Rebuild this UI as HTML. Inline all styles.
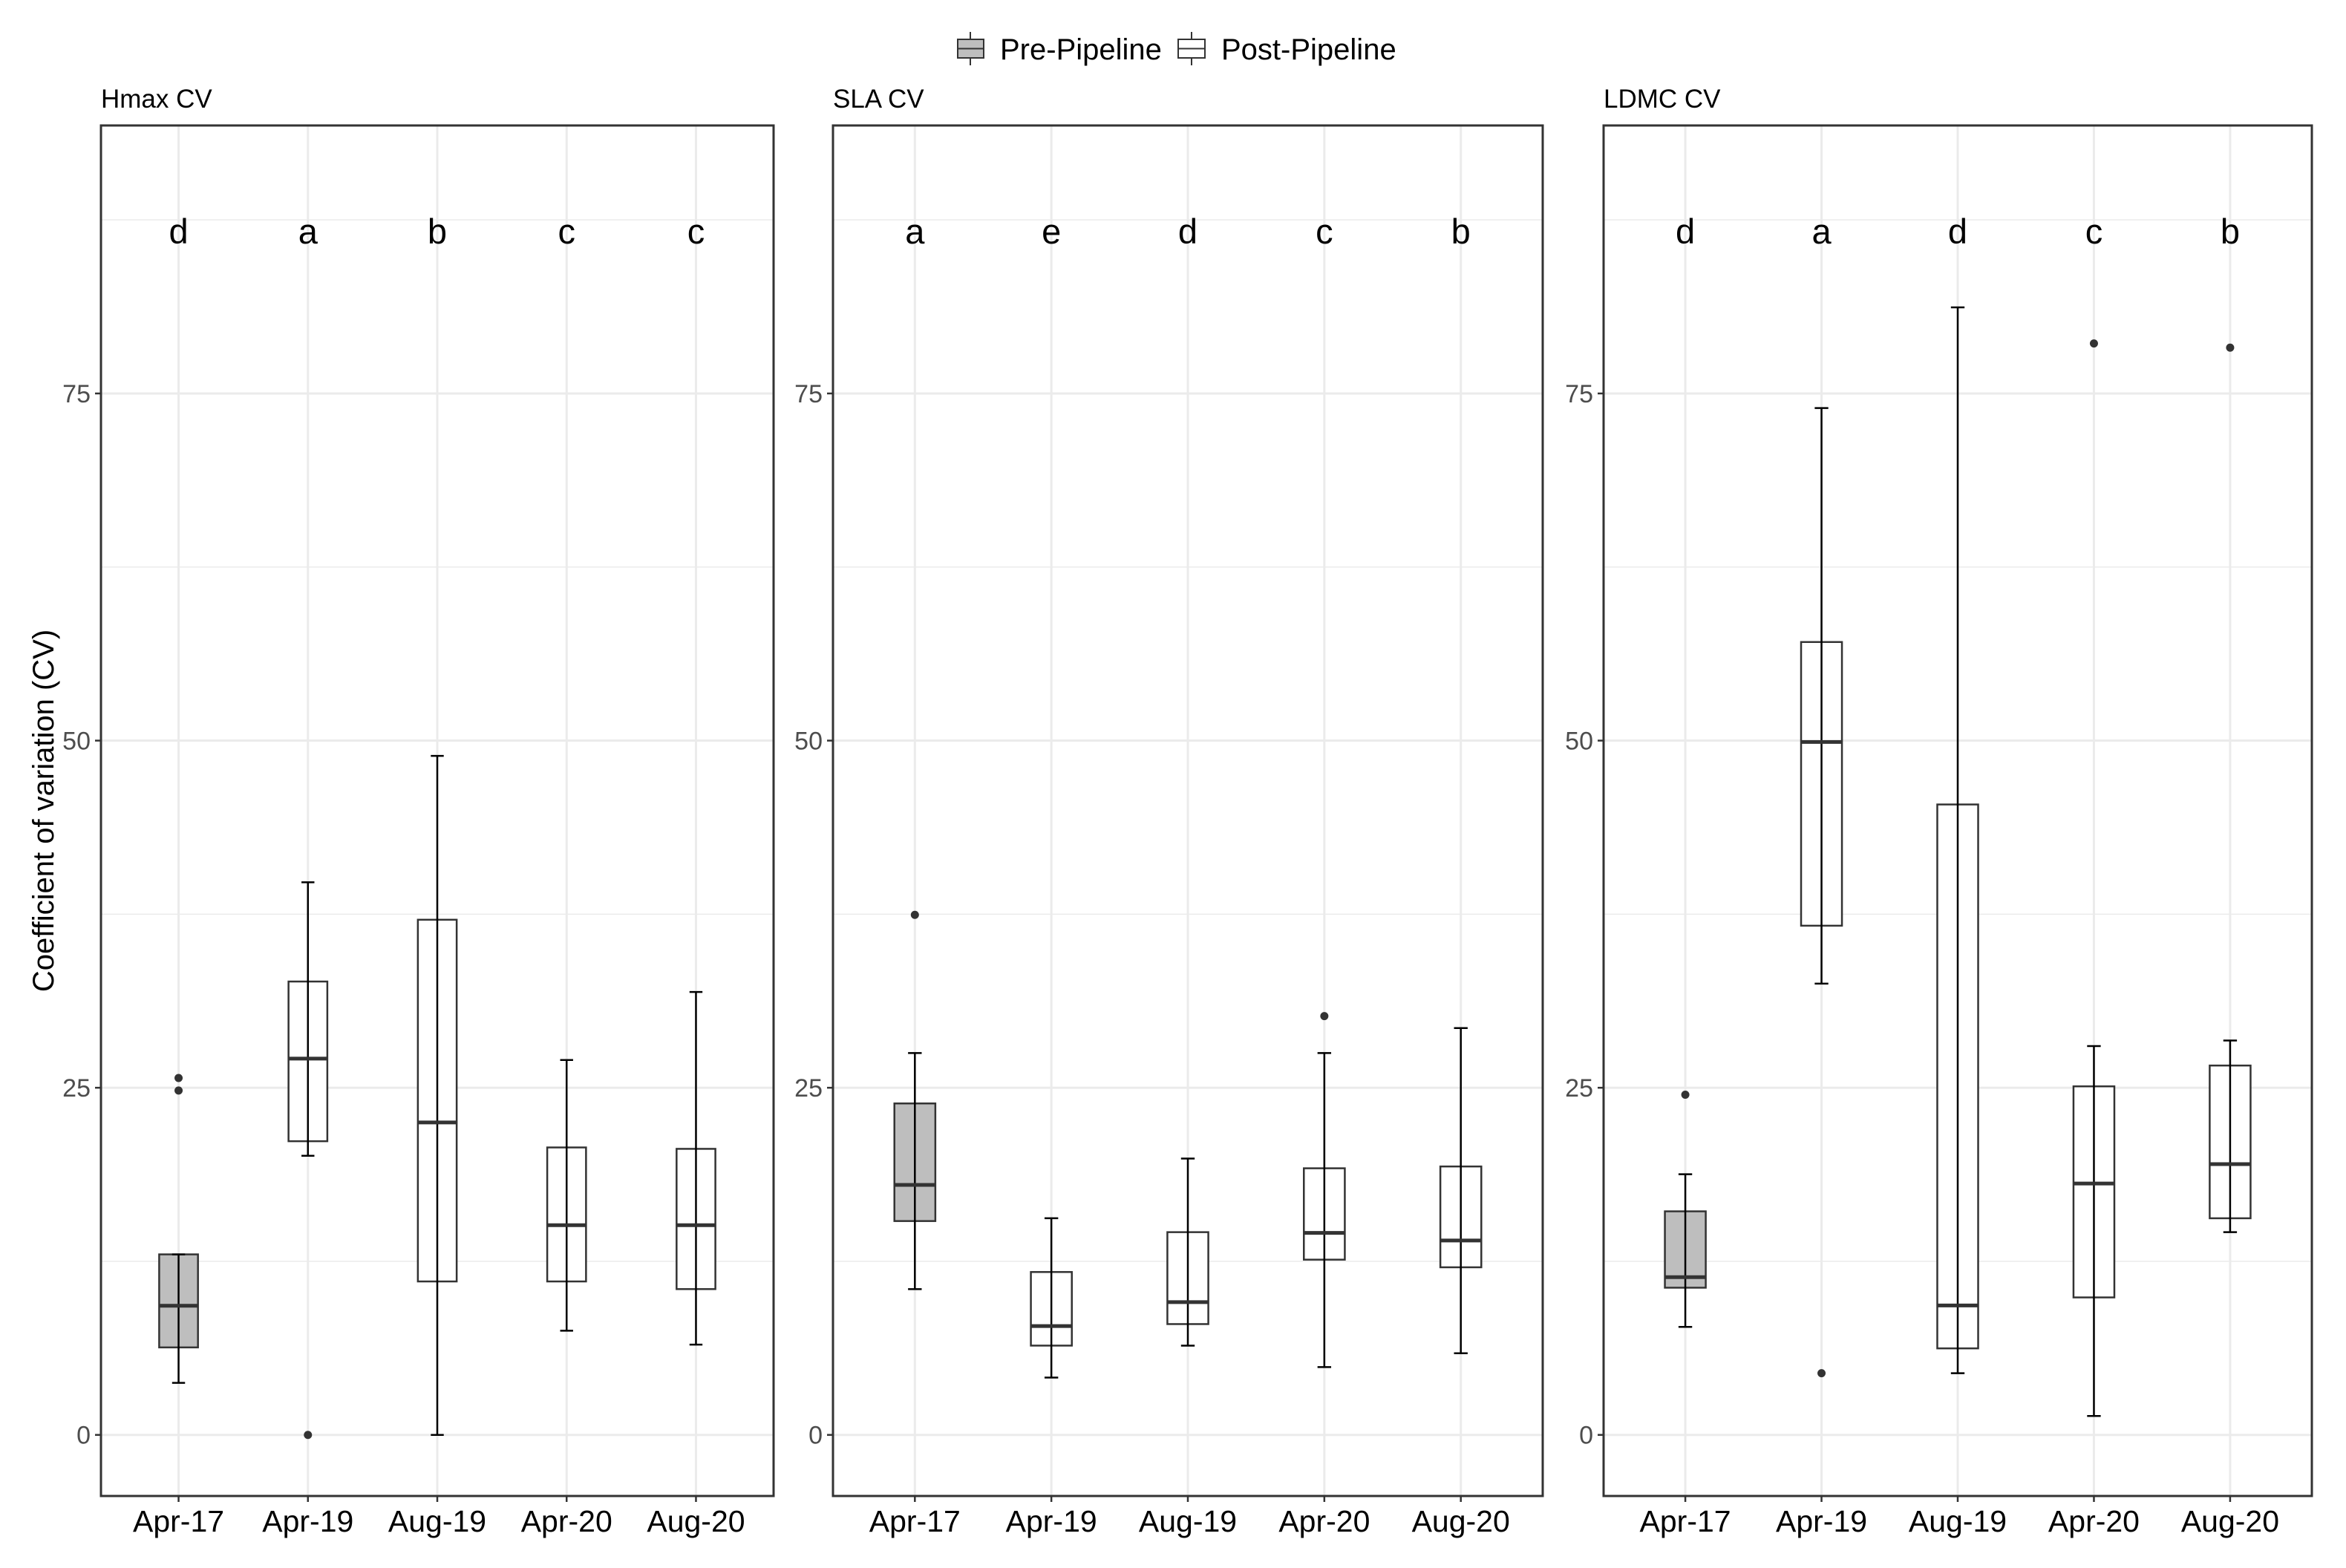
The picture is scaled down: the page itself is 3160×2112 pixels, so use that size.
<!DOCTYPE html>
<html><head><meta charset="utf-8"><style>
html,body{margin:0;padding:0;background:#fff;}
svg{display:block;font-family:"Liberation Sans",Arial,sans-serif;}
</style></head><body>
<svg id="chart" width="3160" height="2112" viewBox="0 0 3160 2112" xmlns="http://www.w3.org/2000/svg">
<rect width="3160" height="2112" fill="#fff"/>
<g>
  <g>
    <line x1="1307" y1="43" x2="1307" y2="88" stroke="#333" stroke-width="2"/>
    <rect x="1290" y="53" width="35" height="25" fill="#bebebe" stroke="#333" stroke-width="2"/>
    <line x1="1290" y1="65.5" x2="1325" y2="65.5" stroke="#333" stroke-width="2"/>
    <text x="1347" y="80" font-size="40" fill="#000">Pre-Pipeline</text>
  </g>
  <g>
    <line x1="1605" y1="43" x2="1605" y2="88" stroke="#333" stroke-width="2"/>
    <rect x="1587" y="53" width="36" height="25" fill="#fff" stroke="#333" stroke-width="2"/>
    <line x1="1587" y1="65.5" x2="1623" y2="65.5" stroke="#333" stroke-width="2"/>
    <text x="1645" y="80" font-size="40" fill="#000">Post-Pipeline</text>
  </g>
</g>
<text transform="translate(72,1092) rotate(-90)" text-anchor="middle" font-size="40" fill="#000">Coefficient of variation (CV)</text>
<g id="panels"></g>
</svg>
<script>
const categories = ["Apr-17","Apr-19","Aug-19","Apr-20","Aug-20"];
const groups = ["pre","post","post","post","post"];
const yTicks = [0,25,50,75];
const yMinor = [12.5,37.5,62.5,87.5];
const panelTitles = ["Hmax CV","SLA CV","LDMC CV"];
const hmaxLetters = ["d","a","b","c","c"];
const slaLetters = ["a","e","d","c","b"];
const ldmcLetters = ["d","a","d","c","b"];
// [lowWhisker, q1, median, q3, highWhisker]
const hmaxStats = [[3.75,6.3,9.3,13.0,13.0],[20.1,21.15,27.1,32.65,39.8],[0,11.05,22.5,37.1,48.9],[7.5,11.05,15.1,20.7,27.0],[6.5,10.5,15.1,20.6,31.9]];
const hmaxOutliers = [[25.7,24.8],[0],[],[],[]];
const slaStats = [[10.5,15.4,18.0,23.87,27.5],[4.13,6.43,7.84,11.73,15.6],[6.43,7.98,9.56,14.6,19.9],[4.88,12.62,14.55,19.2,27.5],[5.88,12.07,14.0,19.33,29.3]];
const slaOutliers = [[37.45],[],[],[30.16],[]];
const ldmcStats = [[7.78,10.6,11.36,16.1,18.77],[32.5,36.67,49.9,57.1,73.95],[4.44,6.23,9.32,45.4,81.2],[1.36,9.9,18.1,25.1,28.0],[14.6,15.6,19.5,26.6,28.4]];
const ldmcOutliers = [[24.5],[4.44],[],[78.6],[78.3]];

const NS = "http://www.w3.org/2000/svg";
const root = document.getElementById("panels");
const panels = [
  {x0:136, x1:1042, title:panelTitles[0], letters:hmaxLetters, stats:hmaxStats, outs:hmaxOutliers, key:"hmax"},
  {x0:1122, x1:2078, title:panelTitles[1], letters:slaLetters, stats:slaStats, outs:slaOutliers, key:"sla"},
  {x0:2160, x1:3114, title:panelTitles[2], letters:ldmcLetters, stats:ldmcStats, outs:ldmcOutliers, key:"ldmc"}
];
const plotTop = 169, plotBottom = 2015, yDomMin = -4.4, yDomMax = 94.3;
function yScale(v){ return plotBottom - (v - yDomMin) / (yDomMax - yDomMin) * (plotBottom - plotTop); }
function el(tag, attrs, parent){ const e = document.createElementNS(NS, tag); for (const k in attrs) e.setAttribute(k, attrs[k]); parent.appendChild(e); return e; }

panels.forEach((p) => {
  const g = el("g", {}, root);
  
  
  const step = (p.x1 - p.x0) / 5.2;
  const xScale = (i) => p.x0 + step * (0.6 + i);
  yMinor.forEach(v => { const l = el("line", {x1:p.x0, x2:p.x1, y1:yScale(v), y2:yScale(v), stroke:"#ebebeb", "stroke-width":1.5}, g);
      });
  yTicks.forEach(v => { const l = el("line", {x1:p.x0, x2:p.x1, y1:yScale(v), y2:yScale(v), stroke:"#ebebeb", "stroke-width":3}, g);
      });
  categories.forEach((c, i) => { const l = el("line", {x1:xScale(i), x2:xScale(i), y1:plotTop, y2:plotBottom, stroke:"#ebebeb", "stroke-width":3}, g);
      });
  const t = el("text", {x:p.x0, y:145, "font-size":35, fill:"#000"}, g);
  t.textContent = p.title;
  
  
  yTicks.forEach(v => {
    const tk = el("line", {x1:p.x0 - 8, x2:p.x0, y1:yScale(v), y2:yScale(v), stroke:"#333", "stroke-width":2.5}, g);
     
    const tl = el("text", {x:p.x0 - 14, y:yScale(v) + 12, "text-anchor":"end", "font-size":34, fill:"#4d4d4d"}, g);
    tl.textContent = v;
     
  });
  const bw = step * 0.3, cw = step * 0.1;
  categories.forEach((c, i) => {
    const s = p.stats[i], cx = xScale(i);
    const bg = el("g", {}, g);
    
    
    el("rect", {x:cx - bw/2, y:yScale(s[3]), width:bw, height:yScale(s[1]) - yScale(s[3]), fill: groups[i] === "pre" ? "#bebebe" : "#fff", stroke:"#333", "stroke-width":2.5}, bg);
    el("line", {x1:cx, x2:cx, y1:yScale(s[0]), y2:yScale(s[4]), stroke:"#000", "stroke-width":2.5}, bg);
    el("line", {x1:cx - cw/2, x2:cx + cw/2, y1:yScale(s[0]), y2:yScale(s[0]), stroke:"#000", "stroke-width":2.5}, bg);
    el("line", {x1:cx - cw/2, x2:cx + cw/2, y1:yScale(s[4]), y2:yScale(s[4]), stroke:"#000", "stroke-width":2.5}, bg);
    el("line", {x1:cx - bw/2, x2:cx + bw/2, y1:yScale(s[2]), y2:yScale(s[2]), stroke:"#333", "stroke-width":5}, bg);
    p.outs[i].forEach(o => {
      const d = el("circle", {cx:cx, cy:yScale(o), r:5.5, fill:"#333"}, g);
      
      
    });
    const lt = el("text", {x:cx, y:328, "text-anchor":"middle", "font-size":47, fill:"#000"}, g);
    lt.textContent = p.letters[i];
    
    
    const xt = el("line", {x1:cx, x2:cx, y1:plotBottom, y2:plotBottom + 8, stroke:"#333", "stroke-width":2.5}, g);
     
    const xl = el("text", {x:cx, y:2063, "text-anchor":"middle", "font-size":41, fill:"#000"}, g);
    xl.textContent = c;
    
    
  });
  const fr = el("rect", {x:p.x0, y:plotTop, width:p.x1 - p.x0, height:plotBottom - plotTop, fill:"none", stroke:"#333", "stroke-width":3}, g);
  
  
});
</script>
</body></html>
